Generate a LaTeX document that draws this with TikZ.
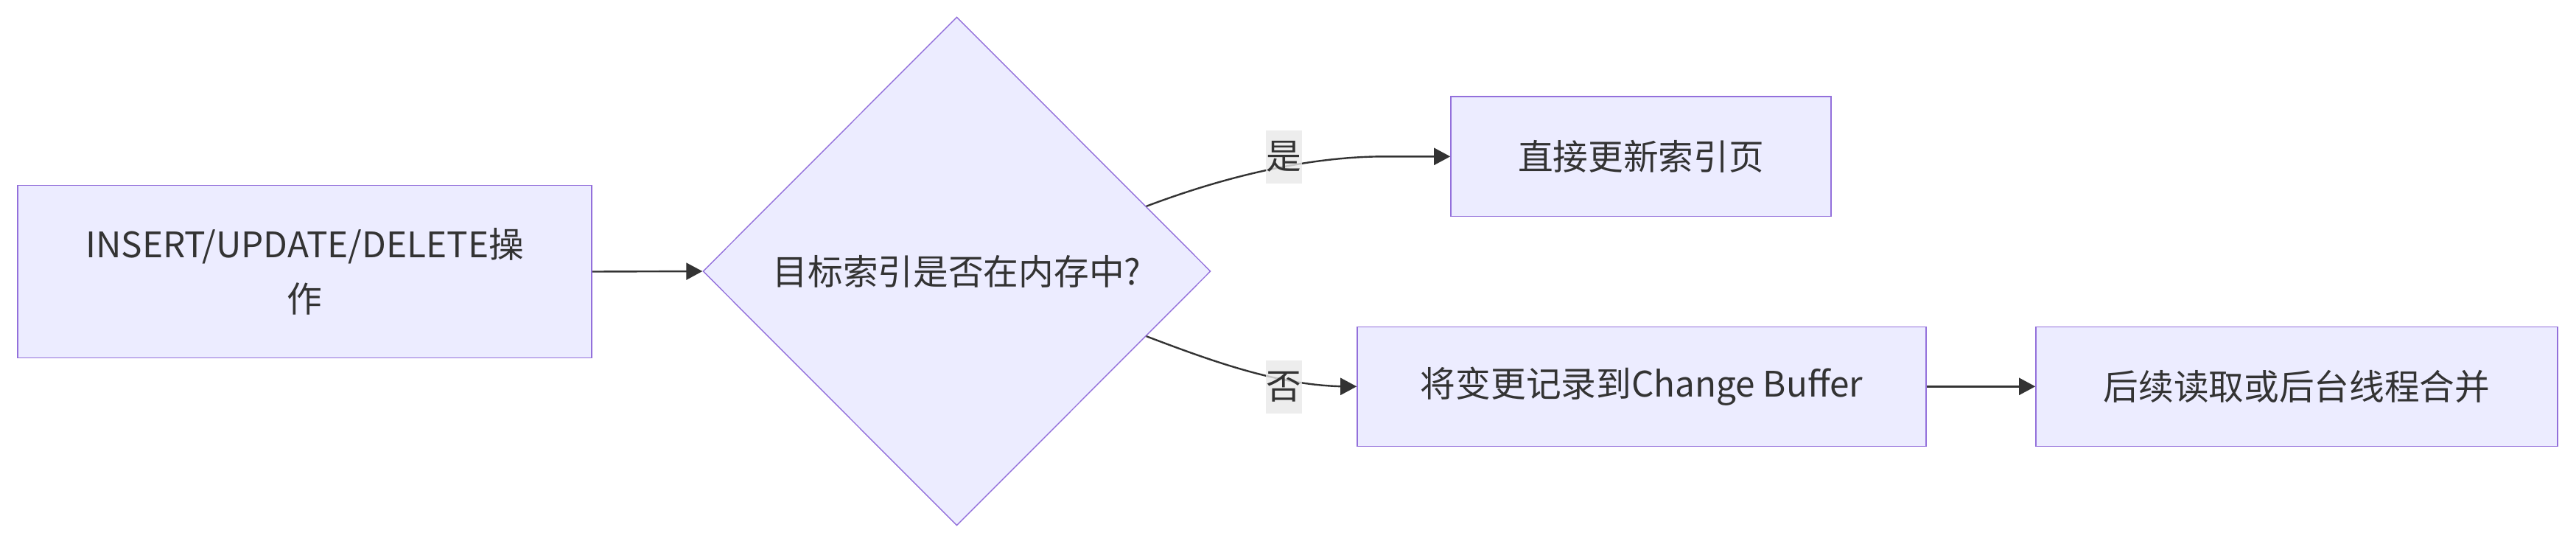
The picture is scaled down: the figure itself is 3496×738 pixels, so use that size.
\documentclass[tikz,border=0pt]{standalone}
\usepackage{fontspec}
\setmainfont{Noto Sans CJK SC}
\usetikzlibrary{shapes.geometric,arrows.meta,calc}
\definecolor{nodefill}{HTML}{ECECFF}
\definecolor{nodeline}{HTML}{9370DB}
\definecolor{ink}{HTML}{333333}
\definecolor{lblbg}{HTML}{E8E8E8}
\tikzset{
  box/.style={draw=nodeline, fill=nodefill, line width=0.8pt, inner sep=0pt, align=center, text=ink},
  decision/.style={diamond, draw=nodeline, fill=nodefill, line width=0.7pt, inner sep=0pt, text=ink, aspect=1},
  edgelbl/.style={fill=lblbg, fill opacity=0.8, text opacity=1, text=ink, inner sep=0pt, minimum width=24.5pt, minimum height=36pt},
  conn/.style={draw=ink, line width=1.2pt, -{Triangle[length=11pt,width=11.5pt]}}
}
\begin{document}
\begin{tikzpicture}[x=0.5pt,y=-0.5pt]
\fontsize{23.85pt}{37pt}\selectfont
\useasboundingbox (0,0) rectangle (3496,738);
\node[box, minimum width=389.5pt, minimum height=117pt] (n1) at (413.5,368.5) {INSERT/UPDATE/DELETE操\\作};
\node[decision, minimum width=344.5pt, minimum height=345pt] (d) at (1298.5,368) {目标索引是否在内存中?};
\node[box, minimum width=258pt, minimum height=81pt] (b2) at (2227,212.3) {直接更新索引页};
\node[box, minimum width=386pt, minimum height=81pt] (b3) at (2228,524.3) {将变更记录到Change Buffer};
\node[box, minimum width=354pt, minimum height=81pt] (b4) at (3117,524.3) {后续读取或后台线程合并};

\coordinate (s1) at ($(d.north east)!0.49!(d.east)$);
\coordinate (s2) at ($(d.south east)!0.49!(d.east)$);

\draw[conn] (n1.east) -- (d.west);
\draw[conn] (s1) .. controls (1640,248) and (1760,212.3) .. (1880,212.3) -- (b2.west);
\draw[conn] (s2) .. controls (1650,492) and (1740,524.3) .. (1830,524.3) -- (b3.west);
\draw[conn] (b3.east) -- (b4.west);

\node[edgelbl] (l1) at (1742.5,212.7) {是};
\node[edgelbl] (l2) at (1742.5,525) {否};
\end{tikzpicture}
\end{document}
